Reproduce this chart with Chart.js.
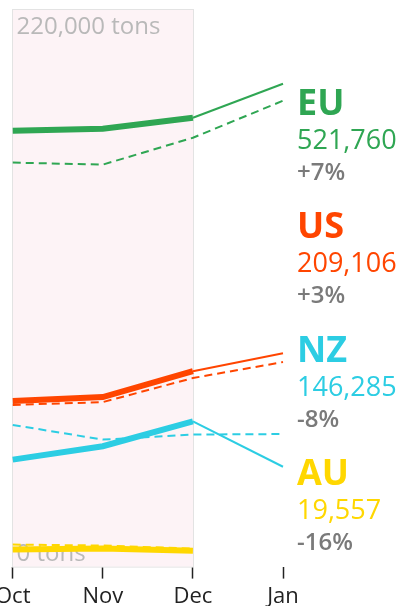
<!DOCTYPE html>
<html>
<head>
<meta charset="utf-8">
<script src="https://cdn.jsdelivr.net/npm/chart.js@4"></script>
<style>
  html, body { margin: 0; padding: 0; background: #fff; overflow: hidden; }
  #wrap { position: absolute; left: -10px; top: 0; width: 411px; height: 615px; }
</style>
</head>
<body>
<div id="wrap"><canvas id="chart"></canvas></div>
<script>
// DATA -----------------------------------------------------------------------
const months = ['Oct', 'Nov', 'Dec', 'Jan'];

const euCurrent = [172000, 172800, 177100, 190500];
const euPrior   = [159400, 158600, 169200, 183800];
const usCurrent = [65300, 66900, 77100, 84200];
const usPrior   = [63800, 64900, 74400, 80700];
const nzCurrent = [42200, 47500, 57300, 39400];
const nzPrior   = [55900, 50100, 52100, 52300];
const auCurrent = [6700, 7100, 6300, null];
const auPrior   = [8700, 8300, 7100, null];

const regionNames = ['EU', 'US', 'NZ', 'AU'];
const regionTotals = ['521,760', '209,106', '146,285', '19,557'];
const regionChanges = ['+7%', '+3%', '-8%', '-16%'];
const regionColors = ['#2fa653', '#ff4500', '#2ccde3', '#ffd700'];

const axisMax = 220000;
const axisLabels = ['220,000 tons', '0 tons'];

const FONT = '"Open Sans", sans-serif';

// shaded Oct-Dec box, drawn under the lines
const shadePlugin = {
    id: 'shade',
    beforeDatasetsDraw(chart) {
        const { ctx, chartArea, scales } = chart;
        const x0 = Math.round(scales.x.getPixelForValue(0)) - 0.5;
        const x1 = Math.round(scales.x.getPixelForValue(2)) + 0.5;
        ctx.save();
        ctx.fillStyle = '#fdf3f6';
        ctx.fillRect(x0, chartArea.top, x1 - x0, chartArea.bottom - chartArea.top);
        ctx.strokeStyle = '#e3e3e3';
        ctx.lineWidth = 1;
        ctx.strokeRect(x0, chartArea.top + 0.5, x1 - x0, chartArea.bottom - chartArea.top);

        // axis labels inside the plot
        ctx.fillStyle = '#b9b9b9';
        ctx.font = '24px ' + FONT;
        ctx.textAlign = 'left';
        ctx.textBaseline = 'alphabetic';
        ctx.fillText(axisLabels[0], x0 + 4, scales.y.getPixelForValue(axisMax) + 25);
        ctx.fillText(axisLabels[1], x0 + 4, scales.y.getPixelForValue(0) - 6);
        ctx.restore();
    }
};

// region labels on the right
const labelPlugin = {
    id: 'regionLabels',
    afterDraw(chart) {
        const { ctx, chartArea } = chart;
        const x = chartArea.right + 14;
        ctx.save();
        ctx.textAlign = 'left';
        ctx.textBaseline = 'alphabetic';
        regionNames.forEach((name, i) => {
            const base = 115 + i * 123.3;
            ctx.fillStyle = regionColors[i];
            ctx.font = 'bold 36px ' + FONT;
            ctx.fillText(name, x, base);
            ctx.font = '27px ' + FONT;
            ctx.fillText(regionTotals[i], x, base + 34);
            ctx.fillStyle = '#7a7a7a';
            ctx.font = '600 24px ' + FONT;
            ctx.fillText(regionChanges[i], x, base + 65);
        });
        ctx.restore();
    }
};

function solidSet(data, color) {
    return {
        data: data,
        borderColor: color,
        borderWidth: 6,
        pointRadius: 0,
        tension: 0,
        fill: false,
        segment: {
            borderWidth: ctx => ctx.p0DataIndex < 2 ? 6 : 2
        }
    };
}

function dashedSet(data, color) {
    return {
        data: data,
        borderColor: color,
        borderWidth: 2,
        borderDash: [8, 5],
        pointRadius: 0,
        tension: 0,
        fill: false
    };
}

new Chart(document.getElementById('chart'), {
    type: 'line',
    data: {
        labels: months,
        datasets: [
            dashedSet(auPrior, regionColors[3]),
            solidSet(auCurrent, regionColors[3]),
            dashedSet(nzPrior, regionColors[2]),
            solidSet(nzCurrent, regionColors[2]),
            dashedSet(usPrior, regionColors[1]),
            solidSet(usCurrent, regionColors[1]),
            dashedSet(euPrior, regionColors[0]),
            solidSet(euCurrent, regionColors[0])
        ]
    },
    options: {
        responsive: true,
        maintainAspectRatio: false,
        animation: false,
        layout: {
            padding: { top: 9, right: 118, left: 0, bottom: 0 }
        },
        scales: {
            x: {
                border: { display: false },
                grid: {
                    drawOnChartArea: false,
                    drawTicks: true,
                    tickLength: 12,
                    tickWidth: 1.5,
                    color: '#222'
                },
                ticks: {
                    color: '#222',
                    padding: 5,
                    maxRotation: 0,
                    font: { family: FONT, size: 22 }
                }
            },
            y: {
                display: false,
                min: 0,
                max: axisMax
            }
        },
        plugins: {
            legend: { display: false },
            tooltip: { enabled: false }
        }
    },
    plugins: [shadePlugin, labelPlugin]
});
</script>
</body>
</html>
